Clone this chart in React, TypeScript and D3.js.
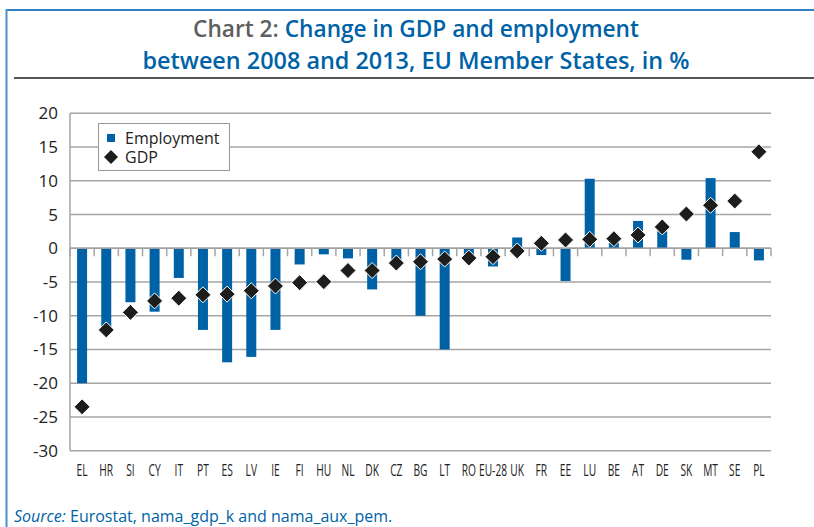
import React from "react";
import * as d3 from "d3";

const countries = ["EL","HR","SI","CY","IT","PT","ES","LV","IE","FI","HU","NL","DK","CZ","BG","LT","RO","EU-28","UK","FR","EE","LU","BE","AT","DE","SK","MT","SE","PL"];
const employment = [-20.0,-12.1,-8.0,-9.4,-4.4,-12.1,-16.9,-16.1,-12.1,-2.4,-0.9,-1.5,-6.1,-1.7,-10.0,-15.0,-1.0,-2.7,1.6,-1.0,-4.85,10.3,0.8,4.05,2.5,-1.7,10.4,2.4,-1.8];
const gdp = [-23.5,-12.1,-9.5,-7.8,-7.4,-6.9,-6.8,-6.3,-5.6,-5.1,-4.95,-3.3,-3.3,-2.2,-2.0,-1.6,-1.45,-1.25,-0.4,0.74,1.23,1.33,1.42,1.97,3.16,5.08,6.37,7.0,14.3];
const yTicks = [20,15,10,5,0,-5,-10,-15,-20,-25,-30];
const titleGray = "Chart 2: ";
const titleBlue1 = "Change in GDP and employment";
const titleLine2 = "between 2008 and 2013, EU Member States, in %";
const legendLabels = ["Employment", "GDP"];

const BLUE = "#0062a6";
const FONT = "'Open Sans', 'DejaVu Sans', sans-serif";

export default function App() {
  const left = 70, right = 771, top = 113.3, bottom = 450.7;
  const x = d3.scaleBand<string>().domain(countries).range([left, right]).paddingInner(0).paddingOuter(0);
  const y = d3.scaleLinear().domain([-30, 20]).range([bottom, top]);
  const bw = 10;
  const boundaries = d3.range(countries.length + 1).map((i) => left + i * x.step());
  const diamond = (cx: number, cy: number, r: number) =>
    `M${cx},${cy - r}L${cx + r},${cy}L${cx},${cy + r}L${cx - r},${cy}Z`;

  return (
    <svg width={814} height={527} style={{ position: "absolute", left: 0, top: 0 }} fontFamily={FONT}>
      <rect x={0} y={0} width={814} height={527} fill="#fff" />
      {/* frame */}
      <line x1={6} y1={10} x2={814} y2={10} stroke="#2f7fc1" strokeWidth={2} />
      <line x1={6.5} y1={9} x2={6.5} y2={527} stroke="#4a90cc" strokeWidth={2} />
      <line x1={14} y1={78} x2={814} y2={78} stroke="#555" strokeWidth={2} />
      {/* title */}
      <text x={416} y={37} textAnchor="middle" fontSize={23} fontWeight={600} textLength={446} lengthAdjust="spacingAndGlyphs">
        <tspan fill="#5f5f5f">{titleGray}</tspan>
        <tspan fill={BLUE}>{titleBlue1}</tspan>
      </text>
      <text x={416} y={69} textAnchor="middle" fontSize={23} fontWeight={600} fill={BLUE} textLength={547} lengthAdjust="spacingAndGlyphs">
        {titleLine2}
      </text>
      {/* gridlines */}
      {yTicks.map((t) => (
        <line key={t} x1={left} x2={right} y1={y(t)} y2={y(t)} stroke="#a5a5a5" strokeWidth={1.5} />
      ))}
      <line x1={left} x2={left} y1={top} y2={bottom} stroke="#a5a5a5" strokeWidth={1.5} />
      {/* y labels */}
      {yTicks.map((t) => (
        <text key={"l" + t} x={58} y={y(t) + 6} textAnchor="end" fontSize={17} fill="#222">
          {t}
        </text>
      ))}
      {/* bars */}
      {countries.map((c, i) => {
        const v = employment[i];
        const cx = (x(c) as number) + x.bandwidth() / 2;
        return (
          <rect key={"b" + c} x={cx - bw / 2} width={bw} y={y(Math.max(0, v))} height={Math.abs(y(v) - y(0))} fill={BLUE} />
        );
      })}
      {/* ticks at zero */}
      {boundaries.map((bx, i) => (
        <line key={"t" + i} x1={bx} x2={bx} y1={y(0)} y2={y(0) + 8} stroke="#a5a5a5" strokeWidth={1.5} />
      ))}
      <line x1={left} x2={right} y1={y(0)} y2={y(0)} stroke="#a0a0a0" strokeWidth={1.5} />
      {/* diamonds */}
      {countries.map((c, i) => {
        const cx = (x(c) as number) + x.bandwidth() / 2;
        return <path key={"d" + c} d={diamond(cx, y(gdp[i]), 8)} fill="#1d1d1b" stroke="#fff" strokeWidth={1} />;
      })}
      {/* x labels */}
      {countries.map((c) => {
        const cx = (x(c) as number) + x.bandwidth() / 2;
        return (
          <text key={"x" + c} transform={`translate(${cx},476) scale(0.62,1)`} textAnchor="middle" fontSize={16.5} fill="#222">
            {c}
          </text>
        );
      })}
      {/* legend */}
      <rect x={98.5} y={123.5} width={131} height={47} fill="#fff" stroke="#999" strokeWidth={1} />
      <rect x={107} y={134} width={8} height={8} fill={BLUE} />
      <text x={125} y={144} fontSize={16} fill="#222">{legendLabels[0]}</text>
      <path d={diamond(111, 157, 7)} fill="#1d1d1b" />
      <text x={125} y={163} fontSize={16} fill="#222">{legendLabels[1]}</text>
      {/* source */}
      <text x={14} y={522} fontSize={16} fill={BLUE}>
        <tspan fontStyle="italic">Source:</tspan>
        <tspan> Eurostat, nama_gdp_k and nama_aux_pem.</tspan>
      </text>
    </svg>
  );
}
